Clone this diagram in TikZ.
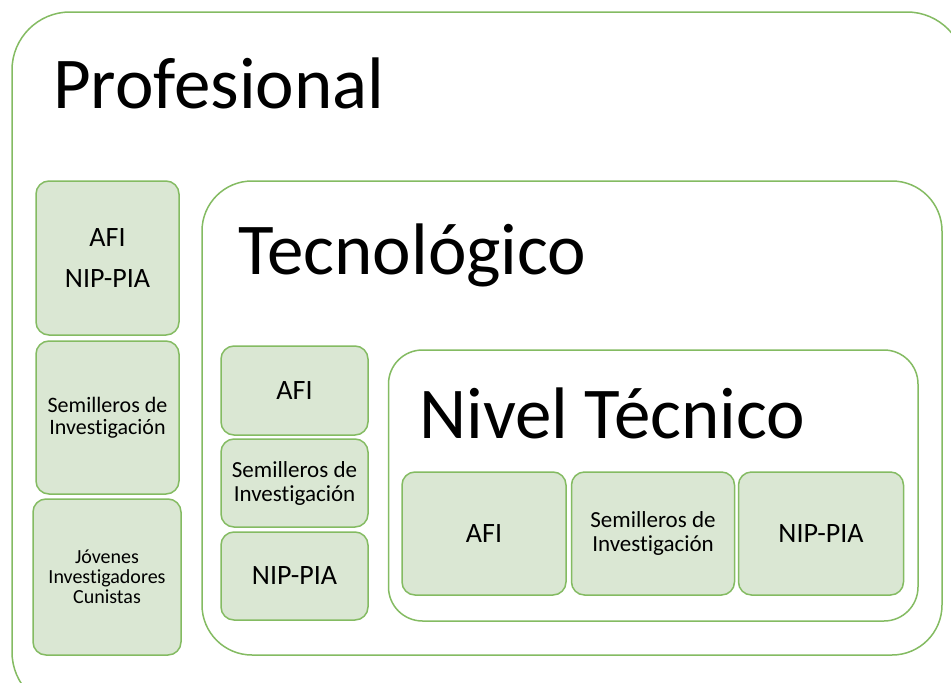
\documentclass[tikz,border=0pt]{standalone}
\usepackage{fontspec}
\setmainfont{Carlito}[Ligatures=NoCommon]
\definecolor{boxfill}{RGB}{218,231,211}
\definecolor{boxline}{RGB}{132,187,98}
\begin{document}
\begin{tikzpicture}[x=1pt,y=-1pt,
  container/.style={draw=boxline, line width=1.5pt, fill=white, inner sep=0pt},
  cell/.style={draw=boxline, line width=1.5pt, fill=boxfill, rounded corners=13pt,
    align=center, inner sep=0pt, text=black},
  big/.style={font=\fontsize{73}{84}\selectfont, inner sep=0pt, anchor=base west},
  medtxt/.style={font=\fontsize{28}{41}\selectfont},
  smtxt/.style={font=\fontsize{23}{24}\selectfont},
  tinytxt/.style={font=\fontsize{22}{22}\selectfont}
]
\useasboundingbox (0,0) rectangle (951,683);
\clip (0,0) rectangle (951,683);
% containers
\node[container, rounded corners=58pt, minimum width=953pt, minimum height=698pt] (prof) at (488.5,361) {};
\node[container, rounded corners=50pt, minimum width=740pt, minimum height=474pt] (tec) at (572,418) {};
\node[container, rounded corners=34pt, minimum width=529.5pt, minimum height=271pt] (niv) at (653.25,485.5) {};
% titles
\node[big] (tprof) at (53,108) {Profesional};
\node[big] (ttec) at (238,274) {Tecnológico};
\node[big] (tniv) at (419,438) {Nivel Técnico};
% left column
\node[cell, medtxt, minimum width=143pt, minimum height=154pt] (l1) at (107.5,258) {AFI\\NIP-PIA};
\node[cell, tinytxt, minimum width=143pt, minimum height=153pt] (l2) at (107.5,417.5) {Semilleros de\\Investigación};
\node[cell, font=\fontsize{20}{20}\selectfont, minimum width=148pt, minimum height=156pt] (l3) at (107,577) {Jóvenes\\Investigadores\\Cunistas};
% middle column
\node[cell, medtxt, minimum width=147pt, minimum height=89pt] (m1) at (294.5,390.5) {AFI};
\node[cell, smtxt, minimum width=147pt, minimum height=88pt] (m2) at (294.5,483) {Semilleros de\\Investigación};
\node[cell, medtxt, minimum width=147pt, minimum height=88pt] (m3) at (294.5,576) {NIP-PIA};
% nivel tecnico row
\node[cell, medtxt, minimum width=164pt, minimum height=123pt] (n1) at (484,533.5) {AFI};
\node[cell, smtxt, minimum width=163pt, minimum height=123pt] (n2) at (653,533.5) {Semilleros de\\Investigación};
\node[cell, medtxt, minimum width=165pt, minimum height=123pt] (n3) at (821,533.5) {NIP-PIA};
\end{tikzpicture}
\end{document}
